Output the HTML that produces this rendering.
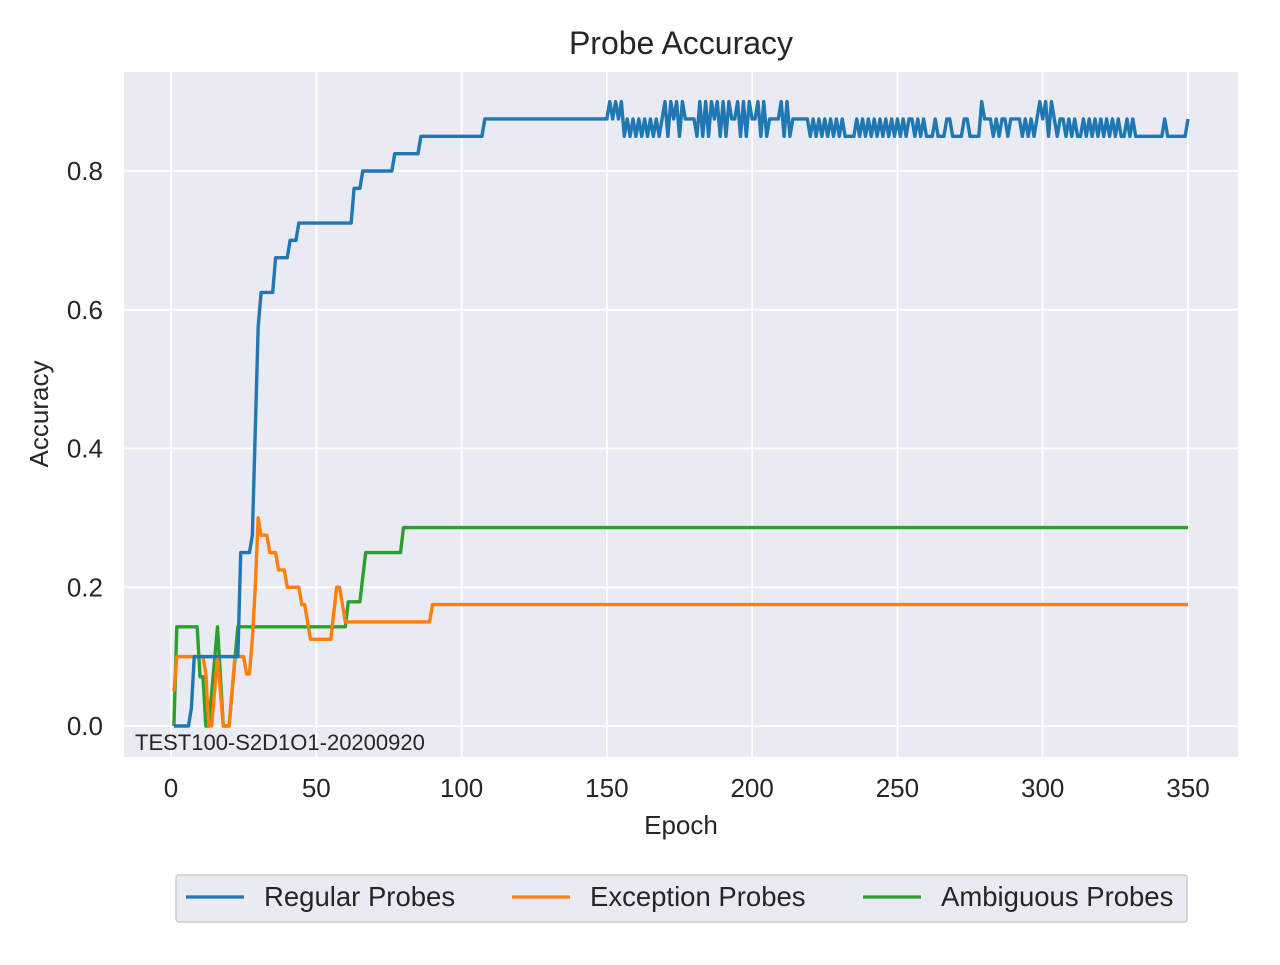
<!DOCTYPE html>
<html><head><meta charset="utf-8"><style>
body{margin:0;background:#fff;font-family:"Liberation Sans",Arial,sans-serif}
svg text{font-family:"Liberation Sans",Arial,sans-serif;fill:#262626}
</style></head><body>
<svg id="chart" width="1280" height="960" viewBox="0 0 1280 960" xmlns="http://www.w3.org/2000/svg">
<rect x="0" y="0" width="1280" height="960" fill="#fff"/>
<rect x="124" y="72" width="1114" height="685" fill="#eaeaf2"/>
<g id="grid"></g>
<g id="series"></g>
<g id="ticks"></g>
<text x="681" y="54" font-size="32" text-anchor="middle">Probe Accuracy</text>
<text x="681" y="834" font-size="26" text-anchor="middle">Epoch</text>
<text x="48" y="414" font-size="26" text-anchor="middle" transform="rotate(-90 48 414)">Accuracy</text>
<text x="135" y="750" font-size="22">TEST100-S2D1O1-20200920</text>
<g>
<rect x="176" y="875" width="1011" height="47" rx="3" fill="#eaeaf2" stroke="#cccccc" stroke-width="1.5"/>
<line x1="186" y1="897" x2="244" y2="897" stroke="#1f77b4" stroke-width="3.3"/>
<text x="264" y="906" font-size="27.5">Regular Probes</text>
<line x1="512" y1="897" x2="570" y2="897" stroke="#ff7f0e" stroke-width="3.3"/>
<text x="590" y="906" font-size="27.5">Exception Probes</text>
<line x1="863" y1="897" x2="921" y2="897" stroke="#2ca02c" stroke-width="3.3"/>
<text x="941" y="906" font-size="27.5">Ambiguous Probes</text>
</g>
</svg>
<script>
const xTicks=[0,50,100,150,200,250,300,350];
const yTicks=[0.0,0.2,0.4,0.6,0.8];
const yTickLabels=["0.0","0.2","0.4","0.6","0.8"];
const blueEarlyEpochs=[1,6,7,8,23,24,27,28,30,31,35,36,40,41,42,43,44,62,63,65,66,76,77,85,86,107,108,149];
const blueEarlyVals=[0,0,0.025,0.1,0.1,0.25,0.25,0.275,0.575,0.625,0.625,0.675,0.675,0.7,0.7,0.7,0.725,0.725,0.775,0.775,0.8,0.8,0.825,0.825,0.85,0.85,0.875,0.875];
const blueLateStart=150;
const blueLateVals=[
.875,.9,.875,.9,.875,.9,.85,.875,.85,.875,
.85,.875,.85,.875,.85,.875,.85,.875,.85,.875,
.9,.85,.9,.875,.9,.85,.9,.875,.875,.875,
.875,.85,.9,.85,.9,.85,.9,.875,.9,.85,
.9,.85,.9,.875,.875,.9,.85,.9,.85,.9,
.875,.875,.9,.85,.9,.85,.875,.875,.875,.875,
.9,.85,.9,.85,.875,.875,.875,.875,.875,.875,
.85,.875,.85,.875,.85,.875,.85,.875,.85,.875,
.85,.875,.85,.85,.85,.85,.875,.85,.875,.85,
.875,.85,.875,.85,.875,.85,.875,.85,.875,.85,
.875,.85,.875,.85,.875,.875,.85,.875,.85,.875,
.85,.85,.85,.875,.85,.85,.85,.875,.875,.85,
.85,.85,.85,.875,.875,.85,.85,.85,.85,.9,
.875,.875,.875,.85,.875,.85,.875,.875,.85,.875,
.875,.875,.875,.85,.875,.85,.875,.85,.875,.9,
.875,.9,.85,.9,.875,.85,.875,.875,.85,.875,
.85,.875,.85,.85,.875,.85,.875,.85,.875,.85,
.875,.85,.875,.85,.875,.85,.875,.85,.85,.875,
.85,.875,.85,.85,.85,.85,.85,.85,.85,.85,
.85,.85,.875,.85,.85,.85,.85,.85,.85,.85,
.875];
const orangeEpochs=[1,2,11,12,13,14,16,18,20,22,25,26,27,28,29,30,31,33,34,36,37,39,40,44,45,46,47,48,55,57,58,60,89,90,350];
const orangeVals=[0.05,0.1,0.1,0.075,0,0,0.1,0,0,0.1,0.1,0.075,0.075,0.125,0.2,0.3,0.275,0.275,0.25,0.25,0.225,0.225,0.2,0.2,0.175,0.175,0.15,0.125,0.125,0.2,0.2,0.15,0.15,0.175,0.175];
const greenEpochs=[1,2,9,10,11,12,13,16,18,20,23,60,61,65,67,79,80,350];
const greenVals=[0,0.143,0.143,0.071,0.071,0,0,0.143,0,0,0.143,0.143,0.179,0.179,0.25,0.25,0.286,0.286];

const NS="http://www.w3.org/2000/svg";
function xS(e){return 171+e*(1188-171)/350;}
function yS(v){return 726-v*(726-171)/0.8;}
function mk(tag,attrs,parent){const el=document.createElementNS(NS,tag);for(const k in attrs)el.setAttribute(k,attrs[k]);parent.appendChild(el);return el;}
const grid=document.getElementById('grid'),ticks=document.getElementById('ticks'),series=document.getElementById('series');
xTicks.forEach(t=>{
  const l=mk('line',{x1:xS(t),x2:xS(t),y1:72,y2:757,stroke:'#fff','stroke-width':1.8},grid);
  
  
  const tx=mk('text',{x:xS(t),y:797,'font-size':26,'text-anchor':'middle'},ticks);
  tx.textContent=String(t);
  
  
});
yTicks.forEach((t,i)=>{
  const l=mk('line',{x1:124,x2:1238,y1:yS(t),y2:yS(t),stroke:'#fff','stroke-width':1.8},grid);
  
  
  const tx=mk('text',{x:103,y:yS(t)+9,'font-size':26,'text-anchor':'end'},ticks);
  tx.textContent=yTickLabels[i];
  
  
});
function draw(ep,vals,color,name){
  const pts=ep.map((e,i)=>xS(e).toFixed(2)+','+yS(vals[i]).toFixed(2)).join(' ');
  const p=mk('polyline',{points:pts,fill:'none',stroke:color,'stroke-width':3.4,'stroke-linejoin':'round'},series);
  
  
}
const bE=blueEarlyEpochs.slice(),bV=blueEarlyVals.slice();
blueLateVals.forEach((v,i)=>{bE.push(blueLateStart+i);bV.push(v);});
draw(greenEpochs,greenVals,'#2ca02c','ambiguous-probes-line');
draw(orangeEpochs,orangeVals,'#ff7f0e','exception-probes-line');
draw(bE,bV,'#1f77b4','regular-probes-line');
</script>
</body></html>
